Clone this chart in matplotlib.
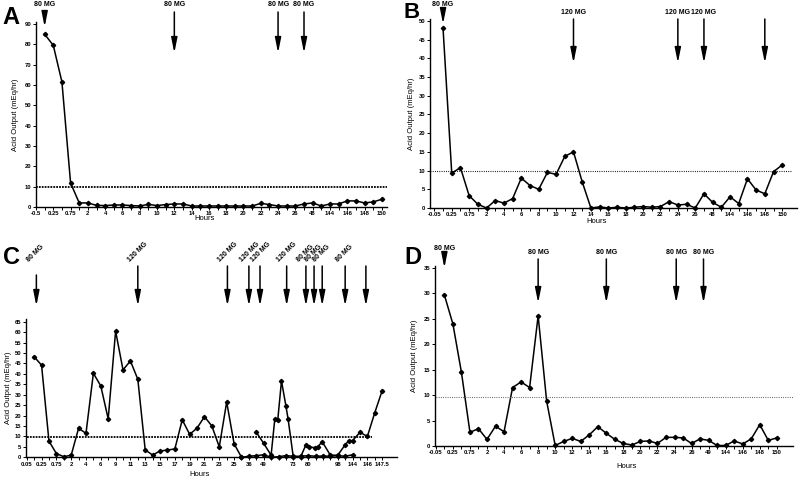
import numpy as np
import matplotlib.pyplot as plt
from matplotlib import transforms

plt.rcParams['font.family'] = ['Liberation Sans', 'DejaVu Sans']

W, H = 800, 478

## ---- data ----
# x axis: one category per point, label shown on every other category
a_labels = ['-0.5', '0.25', '0.75', '2', '4', '6', '8', '10', '12', '14', '16',
            '18', '20', '22', '24', '26', '48', '144', '146', '148', '150']
a_vals = [85, 79.5, 61.5, 11.8, 2, 2, 0.8, 0.7, 1, 1, 0.7, 0.5, 1.3, 0.7, 1.2, 1.5,
          1.5, 0.5, 0.5, 0.5, 0.5, 0.5, 0.5, 0.5, 0.5, 1.8, 1.2, 0.5, 0.5, 0.5,
          1.5, 2, 0.5, 1.5, 1.5, 3, 3, 2, 2.5, 3.8]
a_doses = [1, 16, 28, 31]
a_dose_txt = ['80 MG', '80 MG', '80 MG', '80 MG']

b_labels = ['-0.05', '0.25', '0.75', '2', '4', '6', '8', '10', '12', '14', '16',
            '18', '20', '22', '24', '26', '48', '144', '146', '148', '150']
b_vals = [48, 9.3, 10.8, 3.3, 1, 0, 2, 1.3, 2.5, 8, 6, 5, 9.5, 9, 13.8, 15, 7, 0,
          0.3, 0, 0.2, 0, 0.2, 0.4, 0.2, 0.4, 1.7, 0.8, 1, 0, 3.8, 1.5, 0.2, 3, 1.2,
          7.8, 4.8, 3.8, 9.7, 11.5]
b_doses = [1, 16, 28, 31, 38]
b_dose_txt = ['80 MG', '120 MG', '120 MG', '120 MG', '']

c_labels = ['0.05', '0.25', '0.75', '2', '4', '6', '9', '11', '13', '15', '17', '19',
            '21', '23', '25', '36', '49', '', '73', '80', '', '98', '144', '146', '147.5']
c_x = [1, 2, 3, 4, 5, 6, 7, 8, 9, 10, 11, 12, 13, 14, 15, 16, 17, 18, 19, 20, 21, 22,
       23, 24, 25, 26, 27, 28, 29]
c_vals = [48.2, 44.2, 7.8, 1.8, 0.3, 1, 13.9, 11.5, 40.3, 34.2, 18.4, 60.5, 41.9, 46.2,
          37.4, 3.5, 1.1, 3, 3.5, 4, 18, 11, 14, 19.5, 15, 5, 26.5, 6.5, 0]
c2_x = [31, 32, 33, 33.5, 33.9, 34.4, 35, 35.3, 36, 37, 37.7, 38.1, 38.9, 39.3, 39.9,
        41, 42, 43, 43.5, 44, 45, 46, 47, 48]
c2_vals = [12, 6.7, 1, 18.4, 18, 36.6, 24.6, 18.2, 0, 0.3, 6, 5, 4.6, 5, 7.5,
           1, 1, 6, 8, 8, 12, 10, 21.4, 32]
c3_x = [29, 30, 31, 32, 33, 34, 35, 36, 37, 38, 39, 40, 41, 42, 43, 44]
c3_vals = [0, 0.5, 0.8, 1.2, 0, 0.3, 0.8, 0.5, 0.5, 0.8, 0.5, 0.6, 0.5, 0.8, 0.5, 1.2]
c_doses = [1.3, 15, 27.1, 30, 31.5, 35.1, 37.7, 38.8, 39.9, 43, 45.8]
c_dose_txt = ['80 MG', '120 MG', '120 MG', '120 MG', '120 MG', '120 MG',
              '80 MG', '80 MG', '80 MG', '80 MG', '']

d_labels = ['-0.05', '0.25', '0.75', '2', '4', '6', '8', '10', '12', '14', '16',
            '18', '20', '22', '24', '26', '49', '144', '146', '148', '150']
d_vals = [29.7, 24, 14.5, 2.7, 3.4, 1.3, 3.9, 2.8, 11.5, 12.6, 11.5, 25.6, 8.8, 0.1,
          0.9, 1.5, 0.9, 2.2, 3.8, 2.5, 1.3, 0.5, 0.2, 0.9, 1, 0.5, 1.7, 1.7, 1.6, 0.5,
          1.4, 1.1, 0.1, 0.1, 1, 0.4, 1.4, 4.2, 1.1, 1.6]
d_doses = [1, 12, 20, 28.2, 31.4]
d_dose_txt = ['80 MG', '80 MG', '80 MG', '80 MG', '80 MG']

fig = plt.figure(figsize=(W / 100, H / 100), dpi=100)


def make_axes(left, top, right, bottom):
    return fig.add_axes([left / W, 1 - bottom / H, (right - left) / W, (bottom - top) / H])


def style(ax, labels, xlim, ylim, ystep):
    n = 2 * (len(labels) - 1)
    ax.set_xticks(np.arange(n + 1))
    full = []
    for i in range(n + 1):
        full.append(labels[i // 2] if i % 2 == 0 else '')
    ax.set_xticklabels(full, fontsize=4.2, fontweight='bold')
    ax.set_yticks(np.arange(0, ylim[1] + 0.1, ystep))
    ax.set_yticklabels([str(int(v)) for v in np.arange(0, ylim[1] + 0.1, ystep)],
                       fontsize=4.2, fontweight='bold')
    ax.set_xlim(*xlim)
    ax.set_ylim(*ylim)
    for s in ['top', 'right']:
        ax.spines[s].set_visible(False)
    for s in ['left', 'bottom']:
        ax.spines[s].set_linewidth(1.0)
    ax.tick_params(axis='both', length=2, width=0.7, pad=1.2)


def doses(ax, xs, txts, y_txt, y_tail, y_tip, first=None, rot=0, dx=0.0):
    tr = transforms.blended_transform_factory(ax.transData, fig.transFigure)
    for k, (x, t) in enumerate(zip(xs, txts)):
        yt, ya, yb = y_txt, y_tail, y_tip
        if first is not None and k == 0:
            yt, ya, yb = first
        ax.annotate('', xy=(x, 1 - yb / H), xytext=(x, 1 - ya / H), xycoords=tr,
                    textcoords=tr, annotation_clip=False,
                    arrowprops=dict(arrowstyle='-|>,head_width=0.18,head_length=0.9',
                                    lw=1.1, color='k', shrinkA=0, shrinkB=0,
                                    mutation_scale=10))
        if t:
            if rot:
                ax.text(x + dx, 1 - yt / H, t, transform=tr, fontsize=5, fontweight='bold',
                        rotation=rot, rotation_mode='anchor', ha='left', va='bottom')
            else:
                ax.text(x, 1 - yt / H, t, transform=tr, fontsize=5, fontweight='bold',
                        ha='center', va='center')


line_kw = dict(color='k', lw=1.1, marker='D', ms=2.2, mfc='k', mec='k', clip_on=False)

## ---- A ----
axA = make_axes(36, 22, 387, 207)
axA.plot(np.arange(1, len(a_vals) + 1), a_vals, **line_kw)
axA.hlines(10, 0, 40.6, colors='k', linestyles=(0, (1, 0.6)), lw=1.3)
style(axA, a_labels, (0, 40.6), (0, 91), 10)
axA.set_ylabel('Acid Output (mEq/hr)', fontsize=5.5, labelpad=4)
doses(axA, a_doses, a_dose_txt, 5, 12, 53, first=(5, 16, 27))
fig.text(205 / W, 1 - 219 / H, 'Hours', fontsize=5.5, ha='center', va='center')
fig.text(11 / W, 1 - 17 / H, 'A', fontsize=17, fontweight='bold', ha='center', va='center')

## ---- B ----
axB = make_axes(430, 19, 797, 208)
axB.plot(np.arange(1, len(b_vals) + 1), b_vals, **line_kw)
axB.hlines(10, -0.5, 41, colors='k', linestyles=(0, (0.8, 1.2)), lw=0.8)
style(axB, b_labels, (-0.5, 41.7), (0, 50.5), 5)
axB.set_ylabel('Acid Output (mEq/hr)', fontsize=5.5, labelpad=3)
doses(axB, b_doses, b_dose_txt, 13, 19, 63, first=(4, 8, 24))
fig.text(597 / W, 1 - 222 / H, 'Hours', fontsize=5.5, ha='center', va='center')
fig.text(412 / W, 1 - 13 / H, 'B', fontsize=16, fontweight='bold', ha='center', va='center')

## ---- C ----
axC = make_axes(26, 318.6, 397, 457.3)
axC.plot(c_x, c_vals, **line_kw)
axC.plot(c2_x, c2_vals, **line_kw)
axC.plot(c3_x, c3_vals, **line_kw)
axC.hlines(9.5, 0, 46.6, colors='k', linestyles=(0, (1, 0.6)), lw=1.3)
style(axC, c_labels, (-0.1, 50), (0, 66.5), 5)
axC.set_ylabel('Acid Output (mEq/hr)', fontsize=5.5, labelpad=2)
doses(axC, c_doses, c_dose_txt, 263, 266, 306, first=(263, 275, 306), rot=45, dx=-0.8)
fig.text(200 / W, 1 - 475 / H, 'Hours', fontsize=5.5, ha='center', va='center')
fig.text(11 / W, 1 - 258 / H, 'C', fontsize=17, fontweight='bold', ha='center', va='center')

## ---- D ----
axD = make_axes(435, 266, 793, 446)
axD.plot(np.arange(1, len(d_vals) + 1), d_vals, **line_kw)
axD.hlines(9.7, 0, 41.9, colors='0.35', linestyles=(0, (0.8, 1.2)), lw=0.8)
style(axD, d_labels, (-0.1, 41.9), (0, 35.4), 5)
axD.set_ylabel('Acid Output (mEq/hr)', fontsize=5.5, labelpad=4)
doses(axD, d_doses, d_dose_txt, 253, 259, 303, first=(249, 257, 268))
fig.text(627 / W, 1 - 466 / H, 'Hours', fontsize=5.5, ha='center', va='center')
fig.text(413 / W, 1 - 258 / H, 'D', fontsize=17, fontweight='bold', ha='center', va='center')

fig.savefig('out.png', dpi=100)
